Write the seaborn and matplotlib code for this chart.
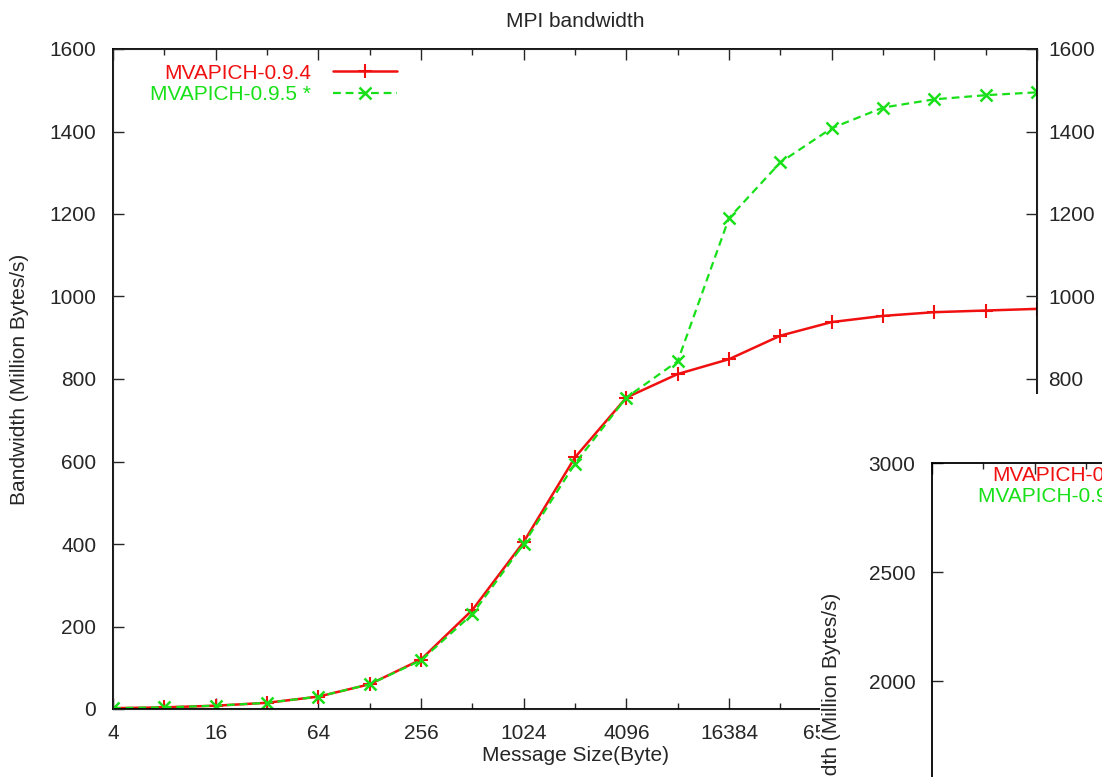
import matplotlib
matplotlib.use('Agg')
import matplotlib.pyplot as plt
from matplotlib.patches import Rectangle
from matplotlib.ticker import FixedLocator, FixedFormatter, NullFormatter
import pandas as pd
import seaborn as sns

# message sizes (bytes), one point per power of two
sizes = [4, 8, 16, 32, 64, 128, 256, 512, 1024, 2048, 4096, 8192,
         16384, 32768, 65536, 131072, 262144, 524288, 1048576]
bw_094 = [2, 4, 8, 15, 30, 60, 120, 240, 405, 610, 755, 812,
          848, 905, 938, 953, 962, 966, 970]
bw_095 = [2, 4, 8, 15, 30, 60, 118, 230, 400, 595, 755, 843,
          1190, 1325, 1408, 1458, 1478, 1488, 1495]
labels = ['MVAPICH-0.9.4', 'MVAPICH-0.9.5 *']
y_ticks = [0, 200, 400, 600, 800, 1000, 1200, 1400, 1600]
y2_ticks = [1000, 1500, 2000, 2500, 3000]

df = pd.DataFrame({'size': sizes, 'v094': bw_094, 'v095': bw_095})

sns.set_style('ticks')
plt.rcParams['font.family'] = ['Liberation Sans', 'DejaVu Sans']
plt.rcParams['font.size'] = 15
plt.rcParams['xtick.direction'] = 'in'
plt.rcParams['ytick.direction'] = 'in'

W, H = 1102, 777
fig = plt.figure(figsize=(W / 100, H / 100), dpi=100)
fig.patch.set_facecolor('white')

red = '#f01010'
green = '#18e018'
FS = 15


def style_axes(a, xlo, xhi):
    a.set_xscale('log', base=2)
    a.set_xlim(xlo, xhi)
    a.xaxis.set_major_locator(FixedLocator(sizes[::2]))
    a.xaxis.set_major_formatter(FixedFormatter([str(s) for s in sizes[::2]]))
    a.xaxis.set_minor_locator(FixedLocator(sizes[1::2]))
    a.xaxis.set_minor_formatter(NullFormatter())
    a.tick_params(axis='x', which='major', length=8, width=1, pad=11,
                  top=True, labelsize=FS)
    a.tick_params(axis='x', which='minor', length=4, width=1, top=True)
    a.tick_params(axis='y', which='major', length=8, width=1, pad=12,
                  labelsize=FS)
    for sp in a.spines.values():
        sp.set_linewidth(1.3)
        sp.set_color('black')
        sp.set_visible(True)


def add_legend(a, anchor):
    a.legend(handles=handles, labels=labels, loc='upper left',
             bbox_to_anchor=anchor, frameon=False, markerfirst=False,
             borderpad=0, borderaxespad=0, labelspacing=0.12,
             handlelength=3.1, handletextpad=1.05, fontsize=FS,
             labelcolor=[red, green])


# main chart
ax = fig.add_axes([113 / W, 1 - 709 / H, (1037 - 113) / W, (709 - 49) / H])
sns.lineplot(data=df, x='size', y='v094', ax=ax, color=red, lw=1.8,
             marker='+', ms=10, mew=1.5, mec=red, label=labels[0])
sns.lineplot(data=df, x='size', y='v095', ax=ax, color=green, lw=1.6,
             marker='x', ms=8, mew=1.8, mec=green, dashes=(3.5, 2.2),
             label=labels[1])
style_axes(ax, sizes[0], sizes[-1])
ax.set_ylim(0, 1600)
ax.set_yticks(y_ticks)
ax.tick_params(axis='y', right=False)
ax.set_title('MPI bandwidth', fontsize=FS, pad=16)
ax.set_xlabel('Message Size(Byte)', fontsize=FS, labelpad=2)
ax.set_ylabel('Bandwidth (Million Bytes/s)', fontsize=FS, labelpad=15)
handles = ax.get_lines()[:2]
add_legend(ax, (0.04, 0.978))

# right-hand copy of the y axis
axr = ax.twinx()
axr.set_ylim(0, 1600)
axr.set_yticks(y_ticks)
axr.tick_params(axis='y', length=8, width=1, pad=8, labelsize=FS)

# second chart pasted over the lower right corner
fig.add_artist(Rectangle((820 / W, 0), (W - 820) / W, (H - 394) / H,
                         transform=fig.transFigure, facecolor='white',
                         edgecolor='none', zorder=2))
ax2 = fig.add_axes([932 / W, 1 - (463 + 510) / H, 924 / W, 510 / H], zorder=3)
ax2.set_facecolor('white')
style_axes(ax2, sizes[0], sizes[-1])
ax2.set_ylim(661, 3000)
ax2.set_yticks(y2_ticks)
ax2.tick_params(axis='y', right=True)
ax2.set_ylabel('Bandwidth (Million Bytes/s)', fontsize=FS, labelpad=20)
add_legend(ax2, (0.05, 0.995))

fig.savefig('out.png', dpi=100, facecolor='white')
